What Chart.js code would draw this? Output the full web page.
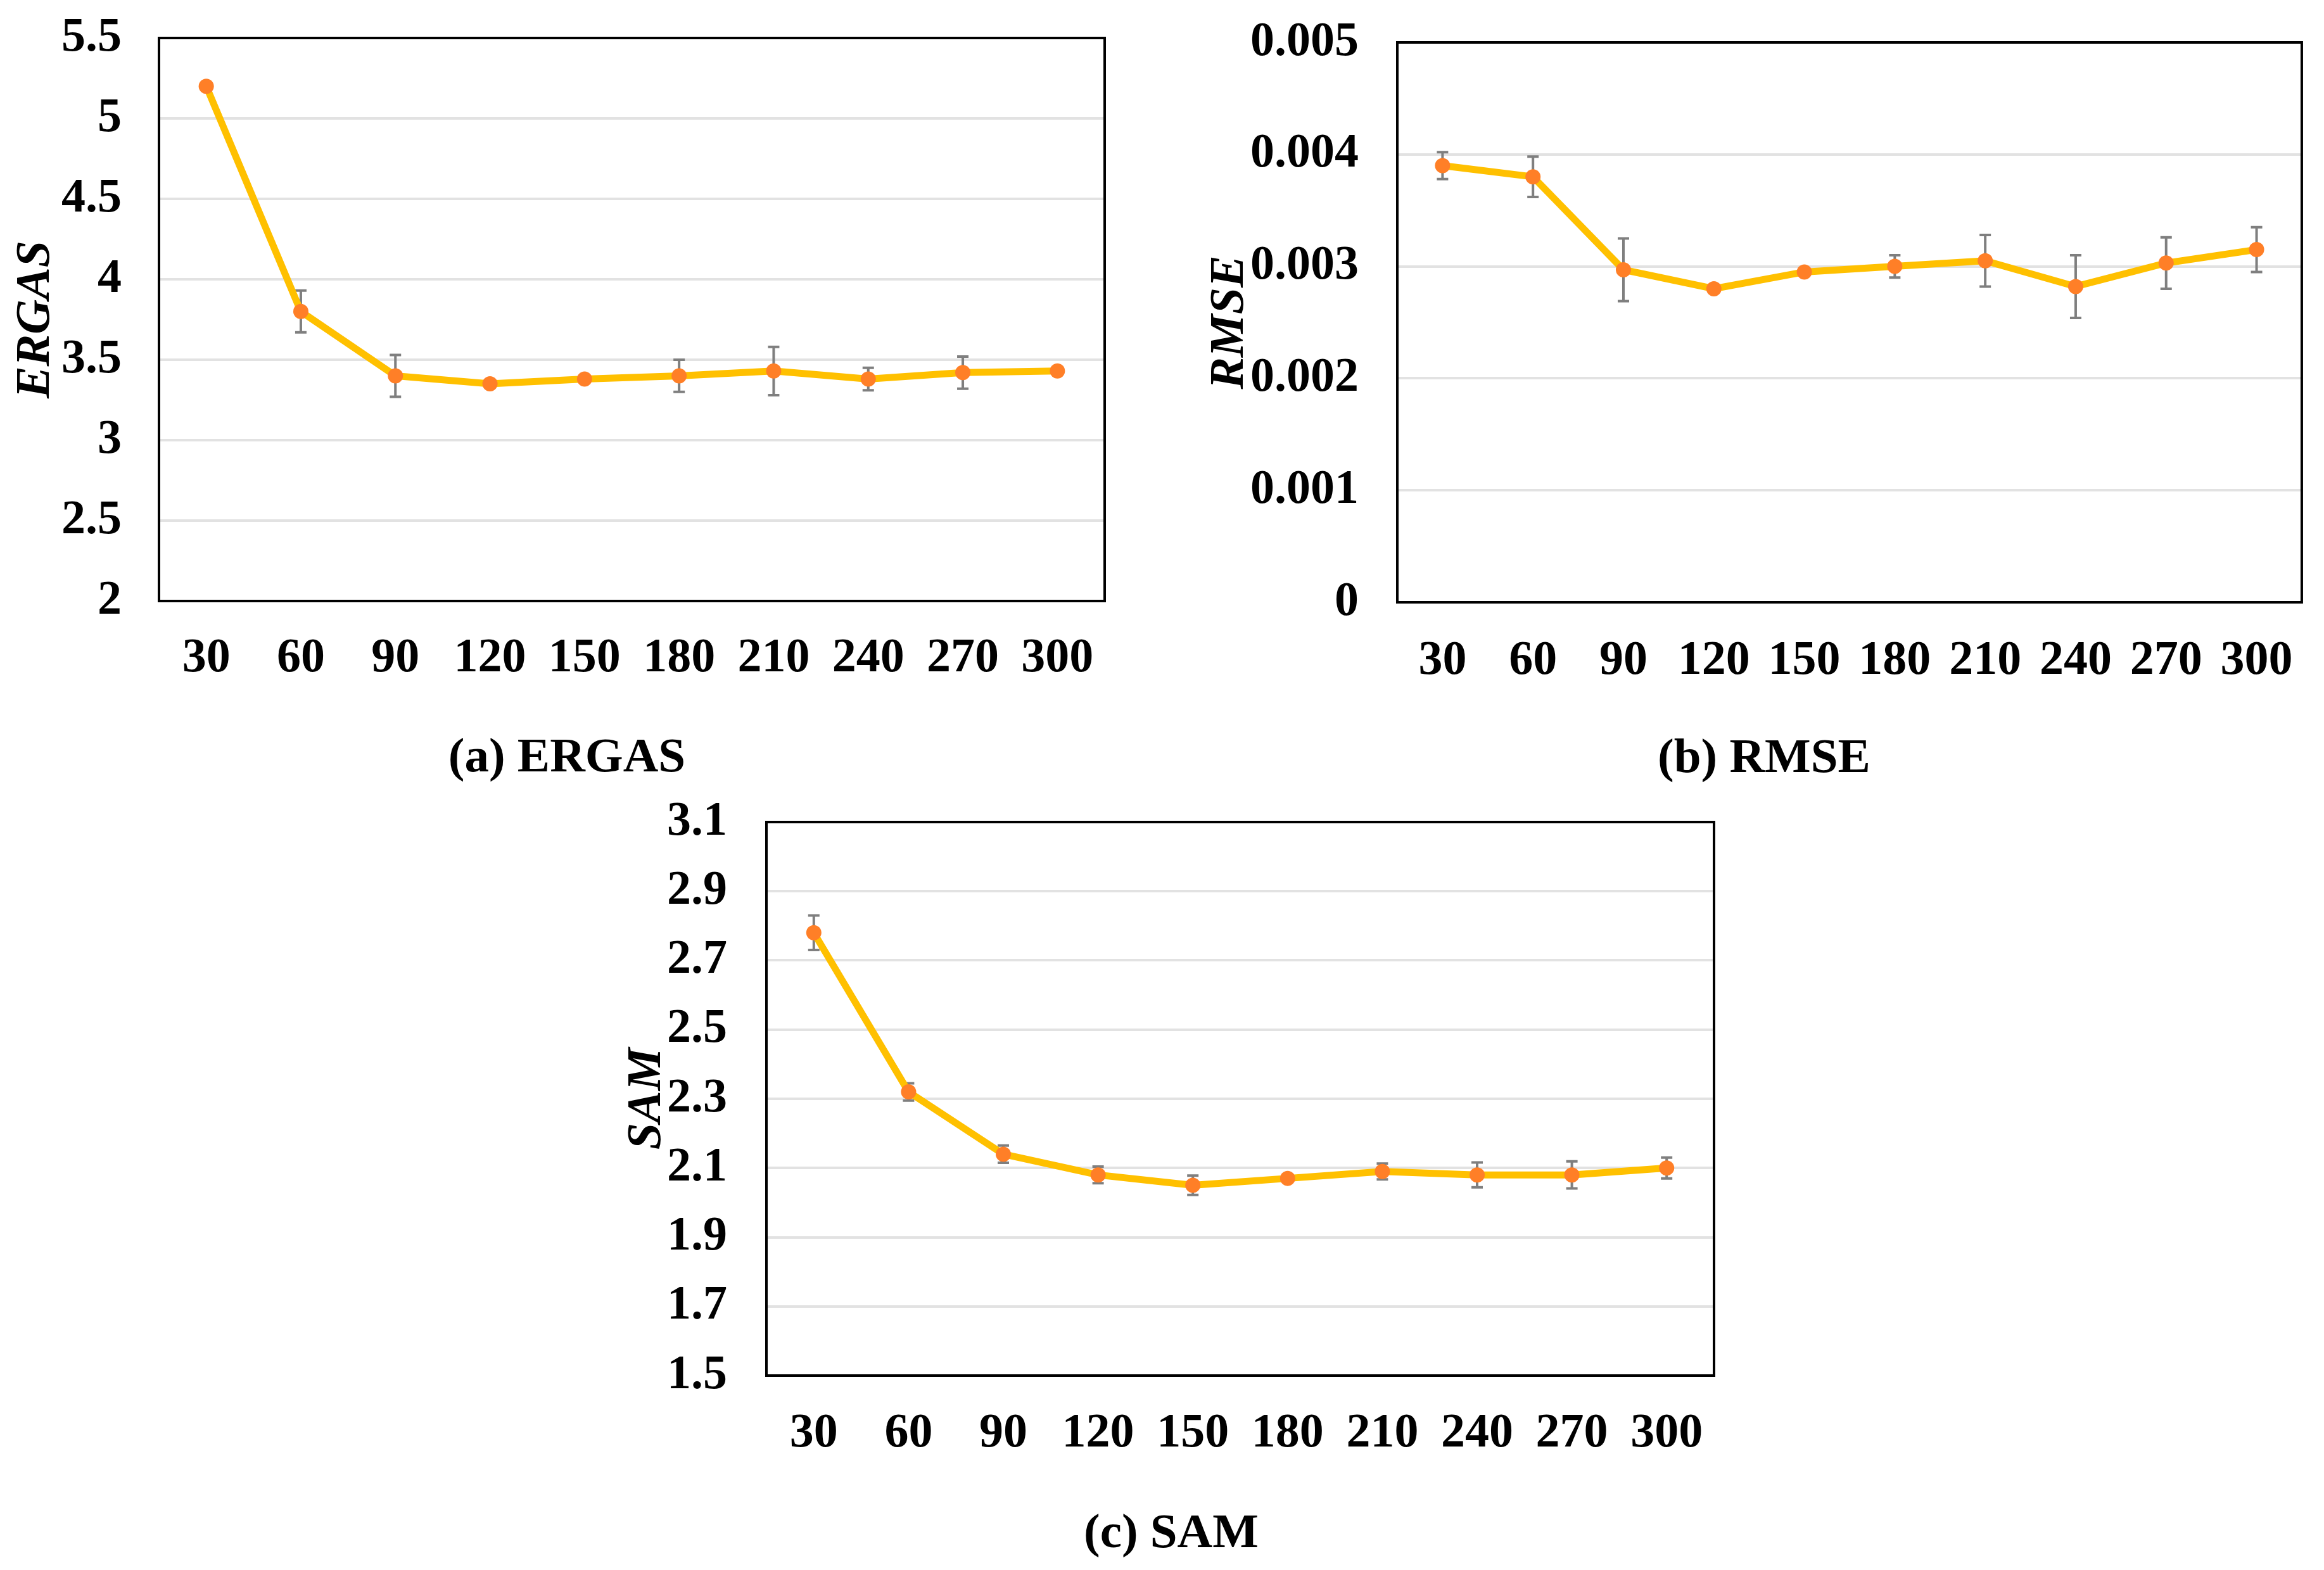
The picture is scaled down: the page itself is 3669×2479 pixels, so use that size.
<!DOCTYPE html>
<html><head><meta charset="utf-8">
<script src="https://cdn.jsdelivr.net/npm/chart.js@4.4.0/dist/chart.umd.min.js"></script>
<style>
html,body{margin:0;padding:0;background:#fff;width:3669px;height:2479px;overflow:hidden}
.box{position:absolute}
.cap{position:absolute;font-family:'Liberation Serif',serif;font-weight:bold;font-size:77px;line-height:1;white-space:nowrap;transform:translate(-50%,-50%);color:#000}
</style></head><body>
<div class="box" style="left:0px;top:0px;width:1790px;height:1130px"><canvas id="ca"></canvas></div>
<div class="box" style="left:1850px;top:0px;width:1819px;height:1130px"><canvas id="cb"></canvas></div>
<div class="box" style="left:900px;top:1250px;width:1900px;height:1130px"><canvas id="cc"></canvas></div>
<div class="cap" style="left:895px;top:1192px">(a) ERGAS</div>
<div class="cap" style="left:2785px;top:1193px">(b) RMSE</div>
<div class="cap" style="left:1849px;top:2417px">(c) SAM</div>
<script>
// ---- data ----
const categories = ['30','60','90','120','150','180','210','240','270','300'];

const ergasMean = [5.20, 3.80, 3.40, 3.35, 3.38, 3.40, 3.43, 3.38, 3.42, 3.43];
const ergasErr  = [0.02, 0.13, 0.13, 0.02, 0.02, 0.10, 0.15, 0.07, 0.10, 0.02];
const ergasTicks = ['2','2.5','3','3.5','4','4.5','5','5.5'];

const rmseMean = [0.00390, 0.00380, 0.00297, 0.00280, 0.00295, 0.00300, 0.00305, 0.00282, 0.00303, 0.00315];
const rmseErr  = [0.00012, 0.00018, 0.00028, 0.00002, 0.00003, 0.00010, 0.00023, 0.00028, 0.00023, 0.00020];
const rmseTicks = ['0','0.001','0.002','0.003','0.004','0.005'];

const samMean = [2.78, 2.32, 2.14, 2.08, 2.05, 2.07, 2.09, 2.08, 2.08, 2.10];
const samErr  = [0.05, 0.025, 0.025, 0.024, 0.028, 0.008, 0.023, 0.036, 0.039, 0.03];
const samTicks = ['1.5','1.7','1.9','2.1','2.3','2.5','2.7','2.9','3.1'];

// ---- plugins ----
const errorBars = {
  id: 'errorBars',
  beforeDatasetsDraw(chart, args, opts) {
    const errs = opts.errors; if (!errs) return;
    const meta = chart.getDatasetMeta(0);
    const ys = chart.scales.y;
    const vals = chart.data.datasets[0].data;
    const ctx = chart.ctx;
    ctx.save();
    ctx.strokeStyle = '#7f7f7f';
    ctx.lineWidth = 4;
    meta.data.forEach((pt, i) => {
      const t = ys.getPixelForValue(vals[i] + errs[i]);
      const b = ys.getPixelForValue(vals[i] - errs[i]);
      const x = pt.x;
      ctx.beginPath();
      ctx.moveTo(x, t); ctx.lineTo(x, b);
      ctx.moveTo(x - 9, t); ctx.lineTo(x + 9, t);
      ctx.moveTo(x - 9, b); ctx.lineTo(x + 9, b);
      ctx.stroke();
    });
    ctx.restore();
  }
};
const frame = {
  id: 'frame',
  beforeDatasetsDraw(chart) {
    const a = chart.chartArea, ctx = chart.ctx;
    ctx.save();
    ctx.strokeStyle = '#000';
    ctx.lineWidth = 4;
    ctx.strokeRect(a.left, a.top, a.right - a.left, a.bottom - a.top);
    ctx.restore();
  }
};

const FONT = "'Liberation Serif', 'Times New Roman', serif";

function makeChart(id, values, errs, ticks, title, g) {
  const lo = parseFloat(ticks[0]), hi = parseFloat(ticks[ticks.length - 1]);
  const step = parseFloat(ticks[1]) - parseFloat(ticks[0]);
  return new Chart(document.getElementById(id), {
    type: 'line',
    data: {
      labels: categories,
      datasets: [{
        data: values,
        borderColor: '#FFC000',
        borderWidth: 11,
        pointRadius: 12,
        pointHoverRadius: 12,
        pointBackgroundColor: '#FF7F27',
        pointBorderWidth: 0,
        tension: 0,
        clip: false
      }]
    },
    options: {
      responsive: true,
      maintainAspectRatio: false,
      animation: false,
      layout: { padding: { left: 0, top: g.top, right: g.right, bottom: 0 } },
      plugins: {
        legend: { display: false },
        tooltip: { enabled: false },
        errorBars: { errors: errs }
      },
      scales: {
        x: {
          offset: true,
          grid: { display: false, drawTicks: false },
          border: { display: false },
          ticks: { color: '#000', padding: g.xpad, maxRotation: 0, autoSkip: false,
                   font: { family: FONT, size: 76, weight: 'bold' } },
          afterFit(s) { s.height = g.xh; }
        },
        y: {
          min: lo, max: hi,
          grid: { color: '#e2e2e2', lineWidth: 4, drawTicks: true, tickLength: g.ypad,
                  tickColor: 'rgba(0,0,0,0)' },
          border: { display: false },
          ticks: { color: '#000', padding: 0, stepSize: step,
                   font: { family: FONT, size: 76, weight: 'bold' },
                   callback: (v, i) => ticks[i] },
          title: { display: true, text: title, color: '#000', padding: { top: g.tpad, bottom: 0 },
                   font: { family: FONT, size: 76, weight: 'bold', style: 'italic' } },
          afterFit(s) { s.width = g.yw; }
        }
      }
    },
    plugins: [frame, errorBars]
  });
}

makeChart('ca', ergasMean, ergasErr, ergasTicks, 'ERGAS',
  { top: 60, right: 46, xh: 181, yw: 251, ypad: 59, xpad: 46, tpad: 12 });
makeChart('cb', rmseMean, rmseErr, rmseTicks, 'RMSE',
  { top: 67, right: 29, xh: 179, yw: 356, ypad: 61, xpad: 48, tpad: 47 });
makeChart('cc', samMean, samErr, samTicks, 'SAM',
  { top: 48, right: 94, xh: 208, yw: 310, ypad: 62, xpad: 47, tpad: 77 });
</script>
</body></html>
